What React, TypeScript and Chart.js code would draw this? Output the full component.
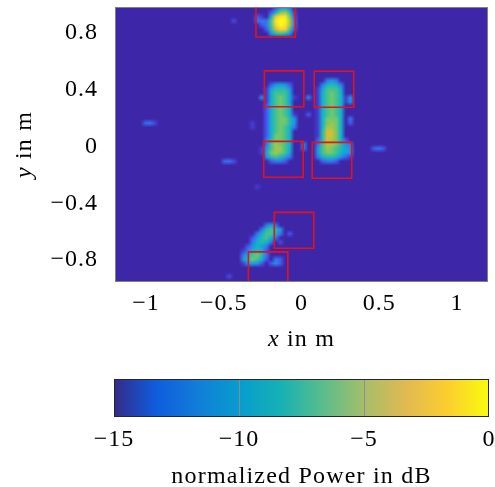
import React, { useEffect, useRef } from "react";
import { Chart, registerables } from "chart.js";
Chart.register(...registerables);

// ---------- axes ----------
const xMin = -1.2;
const xMax = 1.2;
const yMin = -0.955;
const yMax = 0.983;
const xTickValues = [-1, -0.5, 0, 0.5, 1];
const yTickValues = [-0.8, -0.4, 0, 0.4, 0.8];
const cbTickValues = [-15, -10, -5, 0];
const dbMin = -15;
const dbMax = 0;

// ---------- heat map grid (cell size 0.03 m) ----------
const CELL = 0.03;
const gridLeft = -1.2;
const gridTop = 0.99;
const gridCols = 80;
const gridRows = 65;

// each blob: origin = [x of first column centre, y of first row centre], rows of dB values
const topBlobOrigin = [-0.255, 0.975];
const topBlob = [
  [-15, -15, -15, -13, -11, -10, -12, -15],
  [-15, -15, -13, -9, -6, -5, -8, -14],
  [-14, -15, -9, -3, -1, -1, -6, -13],
  [-12, -12, -7, -1, 0, 0, -5, -12],
  [-13, -12, -7, -2, 0, -1, -5, -12],
  [-15, -13, -8, -4, -2, -2, -7, -13],
  [-15, -15, -11, -8, -7, -8, -11, -15],
  [-15, -15, -15, -15, -15, -15, -15, -15],
];

const leftBarOrigin = [-0.255, 0.465];
const leftBar = [
  [-15, -15, -15, -15, -15, -15, -15, -15, -15],
  [-15, -15, -13, -11, -10, -11, -13, -15, -15],
  [-15, -14, -10, -8, -8, -8, -11, -15, -15],
  [-15, -14, -9, -7, -7, -7, -10, -15, -15],
  [-11, -14, -9, -7, -6, -7, -10, -14, -15],
  [-15, -14, -9, -7, -6, -7, -10, -15, -15],
  [-15, -13, -9, -7, -6, -7, -9, -15, -15],
  [-15, -13, -9, -7, -6, -7, -9, -15, -15],
  [-15, -13, -9, -7, -6, -7, -9, -14, -15],
  [-15, -13, -9, -7, -6, -6, -8, -11, -15],
  [-15, -13, -9, -7, -6, -6, -8, -11, -15],
  [-15, -13, -9, -7, -6, -7, -9, -12, -15],
  [-15, -13, -9, -7, -6, -7, -9, -15, -15],
  [-15, -13, -9, -6, -6, -7, -9, -15, -15],
  [-15, -12, -8, -6, -6, -7, -9, -15, -15],
  [-15, -12, -7, -5, -6, -7, -9, -15, -15],
  [-14, -11, -7, -5, -5, -7, -9, -15, -15],
  [-14, -10, -6, -5, -6, -7, -10, -15, -15],
  [-15, -11, -8, -7, -8, -10, -12, -15, -15],
  [-15, -15, -13, -12, -12, -13, -15, -15, -15],
];

const rightBarOrigin = [0.075, 0.495];
const rightBar = [
  [-15, -15, -15, -15, -15, -15, -15, -15, -15],
  [-15, -15, -15, -12, -11, -12, -15, -15, -15],
  [-15, -15, -12, -9, -8, -9, -12, -15, -15],
  [-15, -14, -10, -7, -7, -7, -10, -15, -15],
  [-15, -14, -9, -7, -6, -7, -9, -15, -15],
  [-15, -14, -9, -7, -6, -7, -9, -14, -11],
  [-15, -14, -9, -7, -6, -7, -9, -14, -11],
  [-15, -14, -9, -7, -6, -7, -9, -15, -15],
  [-15, -14, -9, -7, -6, -7, -9, -15, -15],
  [-15, -14, -9, -7, -6, -7, -9, -15, -15],
  [-15, -14, -9, -6, -6, -6, -9, -15, -12],
  [-15, -14, -9, -6, -5, -6, -9, -15, -13],
  [-15, -14, -9, -5, -5, -6, -9, -15, -15],
  [-15, -14, -8, -4, -4, -6, -9, -15, -15],
  [-15, -14, -8, -4, -4, -6, -9, -15, -15],
  [-15, -13, -8, -4, -5, -6, -9, -13, -15],
  [-15, -12, -7, -5, -5, -6, -8, -11, -12],
  [-15, -11, -7, -5, -6, -7, -8, -10, -11],
  [-15, -11, -7, -6, -6, -7, -9, -10, -11],
  [-15, -12, -9, -8, -8, -9, -11, -13, -14],
  [-15, -15, -13, -12, -12, -13, -15, -15, -15],
];

const diagBlobOrigin = [-0.375, -0.525];
const diagBlob = [
  [-15, -15, -15, -15, -15, -15, -15, -15, -15, -15],
  [-15, -15, -15, -15, -15, -12, -10, -12, -15, -15],
  [-15, -15, -15, -15, -12, -8, -7, -8, -11, -15],
  [-15, -15, -15, -12, -9, -7, -7, -9, -12, -15],
  [-15, -15, -13, -10, -8, -7, -9, -12, -15, -15],
  [-15, -15, -12, -9, -8, -9, -12, -15, -15, -15],
  [-15, -13, -11, -9, -10, -12, -15, -15, -15, -15],
  [-14, -12, -9, -8, -9, -13, -15, -15, -15, -15],
  [-12, -9, -7, -6, -8, -12, -15, -15, -15, -15],
  [-11, -8, -6, -7, -9, -13, -15, -12, -13, -15],
  [-14, -11, -10, -11, -13, -15, -13, -11, -13, -15],
  [-15, -15, -15, -15, -15, -15, -15, -15, -15, -15],
];

// isolated weak spots
const spotX = [-1.005, -0.975, -0.945, -0.495, -0.465, -0.435, 0.465, 0.495, 0.525, 0.045, 0.045, 0.015, 0.015, -0.285, -0.285, -0.435, -0.315, -0.315, -0.285, -0.465, -0.075, -0.135];
const spotY = [0.165, 0.165, 0.165, -0.105, -0.105, -0.105, -0.015, -0.015, -0.015, 0.345, 0.225, 0.015, -0.015, 0.885, 0.915, 0.885, 0.165, 0.135, -0.285, -0.915, -0.615, -0.675];
const spotV = [-12.5, -12, -13.5, -12.5, -12, -13.5, -13, -12, -13, -11.5, -13, -11.5, -12, -12, -13, -13.5, -14, -14, -14, -13.5, -13, -13.5];

// red boxes: lower-left corners
const boxLeft = [-0.293, -0.239, 0.082, -0.243, 0.069, -0.175, -0.342];
const boxBottom = [0.772, 0.28, 0.277, -0.217, -0.224, -0.717, -0.996];
const BOX_W = 0.254;
const BOX_H = 0.253;

// ---------- colours ----------
const FONT = "'Liberation Serif', 'Times New Roman', serif";
const FONT_SIZE = 24;
const TICK_SPACING = "1px";
const TITLE_SPACING = "1.2px";
const RED = "#e5121c";
const heatStops: number[][] = [
  [62, 38, 168],
  [72, 82, 244],
  [36, 142, 233],
  [12, 174, 214],
  [45, 189, 163],
  [130, 203, 92],
  [222, 188, 44],
  [252, 207, 48],
  [249, 251, 21],
];
const parulaStops: number[][] = [
  [53, 42, 135],
  [15, 92, 221],
  [18, 125, 216],
  [7, 156, 207],
  [21, 177, 180],
  [89, 189, 140],
  [165, 190, 107],
  [225, 185, 82],
  [252, 206, 46],
  [249, 251, 14],
];

function heatColor(v: number): number[] {
  let t = (v - dbMin) / (dbMax - dbMin);
  t = Math.max(0, Math.min(1, t));
  const n = heatStops.length - 1;
  const f = t * n;
  const i = Math.min(n - 1, Math.floor(f));
  const u = f - i;
  const a = heatStops[i];
  const b = heatStops[i + 1];
  return [0, 1, 2].map((k) => Math.round(a[k] + (b[k] - a[k]) * u));
}

function fmt(v: number): string {
  if (Math.abs(v) < 1e-9) return "0";
  const s = String(Math.abs(Math.round(v * 1000) / 1000));
  return v < 0 ? "\u2212" + s : s;
}

function drawMixed(ctx: CanvasRenderingContext2D, parts: [string, boolean][], cx: number, cy: number) {
  (ctx as any).letterSpacing = TITLE_SPACING;
  const widths = parts.map(([t, it]) => {
    ctx.font = `${it ? "italic " : ""}${FONT_SIZE}px ${FONT}`;
    return ctx.measureText(t).width;
  });
  const total = widths.reduce((a, b) => a + b, 0);
  let x = cx - total / 2;
  ctx.textBaseline = "middle";
  ctx.textAlign = "left";
  ctx.fillStyle = "#000";
  parts.forEach(([t, it], i) => {
    ctx.font = `${it ? "italic " : ""}${FONT_SIZE}px ${FONT}`;
    ctx.fillText(t, x, cy);
    x += widths[i];
  });
}

const spacingPlugin = {
  id: "spacing",
  beforeDraw(chart: any) {
    (chart.ctx as any).letterSpacing = TICK_SPACING;
  },
};

const heatPlugin = {
  id: "heat",
  beforeDatasetsDraw(chart: any) {
    const { ctx, chartArea, scales } = chart;
    const off = document.createElement("canvas");
    off.width = gridCols;
    off.height = gridRows;
    const octx = off.getContext("2d")!;
    const img = octx.createImageData(gridCols, gridRows);
    const vals = new Array(gridCols * gridRows).fill(dbMin);
    const put = (x: number, y: number, v: number) => {
      const c = Math.round((x - gridLeft) / CELL - 0.5);
      const r = Math.round((gridTop - y) / CELL - 0.5);
      if (c < 0 || c >= gridCols || r < 0 || r >= gridRows) return;
      const k = r * gridCols + c;
      vals[k] = Math.max(vals[k], v);
    };
    const blobs: [number[], number[][]][] = [
      [topBlobOrigin, topBlob],
      [leftBarOrigin, leftBar],
      [rightBarOrigin, rightBar],
      [diagBlobOrigin, diagBlob],
    ];
    blobs.forEach(([o, rows]) => {
      rows.forEach((row, r) => row.forEach((v, c) => put(o[0] + c * CELL, o[1] - r * CELL, v)));
    });
    spotX.forEach((x, i) => put(x, spotY[i], spotV[i]));
    vals.forEach((v, k) => {
      const col = heatColor(v);
      img.data[k * 4] = col[0];
      img.data[k * 4 + 1] = col[1];
      img.data[k * 4 + 2] = col[2];
      img.data[k * 4 + 3] = 255;
    });
    octx.putImageData(img, 0, 0);
    const px0 = scales.x.getPixelForValue(gridLeft);
    const px1 = scales.x.getPixelForValue(gridLeft + gridCols * CELL);
    const py0 = scales.y.getPixelForValue(gridTop);
    const py1 = scales.y.getPixelForValue(gridTop - gridRows * CELL);
    ctx.save();
    ctx.beginPath();
    ctx.rect(chartArea.left, chartArea.top, chartArea.right - chartArea.left, chartArea.bottom - chartArea.top);
    ctx.clip();
    ctx.imageSmoothingEnabled = true;
    (ctx as any).imageSmoothingQuality = "medium";
    ctx.drawImage(off, px0, py0, px1 - px0, py1 - py0);
    ctx.restore();
  },
  afterDatasetsDraw(chart: any) {
    const { ctx, chartArea } = chart;
    ctx.save();
    ctx.strokeStyle = "#808080";
    ctx.lineWidth = 1;
    ctx.strokeRect(chartArea.left + 0.5, chartArea.top + 0.5, chartArea.right - chartArea.left - 1, chartArea.bottom - chartArea.top - 1);
    ctx.restore();
  },
  afterDraw(chart: any) {
    const { ctx, chartArea } = chart;
    ctx.save();
    const cx = (chartArea.left + chartArea.right) / 2;
    drawMixed(ctx, [["x", true], [" in m", false]], cx, 340);
    ctx.translate(25, (chartArea.top + chartArea.bottom) / 2);
    ctx.rotate(-Math.PI / 2);
    drawMixed(ctx, [["y", true], [" in m", false]], 0, 0);
    ctx.restore();
  },
};

const colorbarPlugin = {
  id: "colorbar",
  beforeDatasetsDraw(chart: any) {
    const { ctx, chartArea, scales } = chart;
    const { left, right, top, bottom } = chartArea;
    ctx.save();
    const g = ctx.createLinearGradient(left, 0, right, 0);
    parulaStops.forEach((c, i) => g.addColorStop(i / (parulaStops.length - 1), `rgb(${c[0]},${c[1]},${c[2]})`));
    ctx.fillStyle = g;
    ctx.fillRect(left, top, right - left, bottom - top);
    ctx.strokeStyle = "rgba(140,140,140,0.95)";
    ctx.lineWidth = 1;
    cbTickValues.slice(1, -1).forEach((v) => {
      const x = Math.round(scales.x.getPixelForValue(v)) + 0.5;
      ctx.beginPath();
      ctx.moveTo(x, top);
      ctx.lineTo(x, bottom);
      ctx.stroke();
    });
    ctx.strokeStyle = "#262626";
    ctx.strokeRect(left + 0.5, top + 0.5, right - left - 1, bottom - top - 1);
    ctx.restore();
  },
  afterDraw(chart: any) {
    const { ctx, chartArea } = chart;
    ctx.save();
    drawMixed(ctx, [["normalized Power in dB", false]], (chartArea.left + chartArea.right) / 2, 117);
    ctx.restore();
  },
};

export default function App() {
  const mainRef = useRef<HTMLCanvasElement>(null);
  const cbRef = useRef<HTMLCanvasElement>(null);

  useEffect(() => {
    Chart.defaults.font.family = FONT;
    Chart.defaults.color = "#000";
    const tickFont = { size: FONT_SIZE, family: FONT };

    const main = new Chart(mainRef.current!, {
      type: "scatter",
      data: {
        datasets: boxLeft.map((x0, i) => {
          const y0 = boxBottom[i];
          return {
            data: [
              { x: x0, y: y0 },
              { x: x0 + BOX_W, y: y0 },
              { x: x0 + BOX_W, y: y0 + BOX_H },
              { x: x0, y: y0 + BOX_H },
              { x: x0, y: y0 },
            ],
            showLine: true,
            borderColor: RED,
            borderWidth: 1.6,
            borderCapStyle: "square",
            borderJoinStyle: "miter",
            pointRadius: 0,
            fill: false,
            tension: 0,
            clip: 0,
          } as any;
        }),
      },
      options: {
        responsive: false,
        animation: false,
        events: [],
        layout: { padding: { left: 0, right: 7, top: 7, bottom: 0 } },
        plugins: { legend: { display: false }, tooltip: { enabled: false } },
        scales: {
          x: {
            type: "linear",
            min: xMin,
            max: xMax,
            grid: { display: false },
            border: { display: false },
            ticks: { font: tickFont, color: "#000", padding: -1, maxRotation: 0, autoSkip: false, callback: (v: any) => fmt(Number(v)) },
            afterBuildTicks: (s: any) => {
              s.ticks = xTickValues.map((v) => ({ value: v }));
            },
            afterFit: (s: any) => {
              s.height = 78;
              s.paddingLeft = 0;
              s.paddingRight = 0;
            },
          },
          y: {
            type: "linear",
            min: yMin,
            max: yMax,
            grid: { display: false },
            border: { display: false },
            ticks: { font: tickFont, color: "#000", padding: 9, autoSkip: false, callback: (v: any) => fmt(Number(v)) },
            afterBuildTicks: (s: any) => {
              s.ticks = yTickValues.map((v) => ({ value: v }));
            },
            afterFit: (s: any) => {
              s.width = 115;
              s.paddingTop = 0;
              s.paddingBottom = 0;
            },
          },
        },
      } as any,
      plugins: [spacingPlugin, heatPlugin],
    });

    const cb = new Chart(cbRef.current!, {
      type: "scatter",
      data: { datasets: [] },
      options: {
        responsive: false,
        animation: false,
        events: [],
        layout: { padding: { left: 114, right: 6, top: 19, bottom: 0 } },
        plugins: { legend: { display: false }, tooltip: { enabled: false } },
        scales: {
          x: {
            type: "linear",
            min: dbMin,
            max: dbMax,
            grid: { display: false },
            border: { display: false },
            ticks: { font: tickFont, color: "#000", padding: 0, maxRotation: 0, autoSkip: false, callback: (v: any) => fmt(Number(v)) },
            afterBuildTicks: (s: any) => {
              s.ticks = cbTickValues.map((v) => ({ value: v }));
            },
            afterFit: (s: any) => {
              s.height = 70;
              s.paddingLeft = 0;
              s.paddingRight = 0;
            },
          },
          y: { display: false, min: 0, max: 1 },
        },
      } as any,
      plugins: [spacingPlugin, colorbarPlugin],
    });

    return () => {
      main.destroy();
      cb.destroy();
    };
  }, []);

  return (
    <div style={{ position: "absolute", left: 0, top: 0, width: 495, height: 487, background: "#fff" }}>
      <canvas ref={mainRef} width={495} height={360} style={{ position: "absolute", left: 0, top: 0, display: "block" }} />
      <canvas ref={cbRef} width={495} height={127} style={{ position: "absolute", left: 0, top: 360, display: "block" }} />
    </div>
  );
}
